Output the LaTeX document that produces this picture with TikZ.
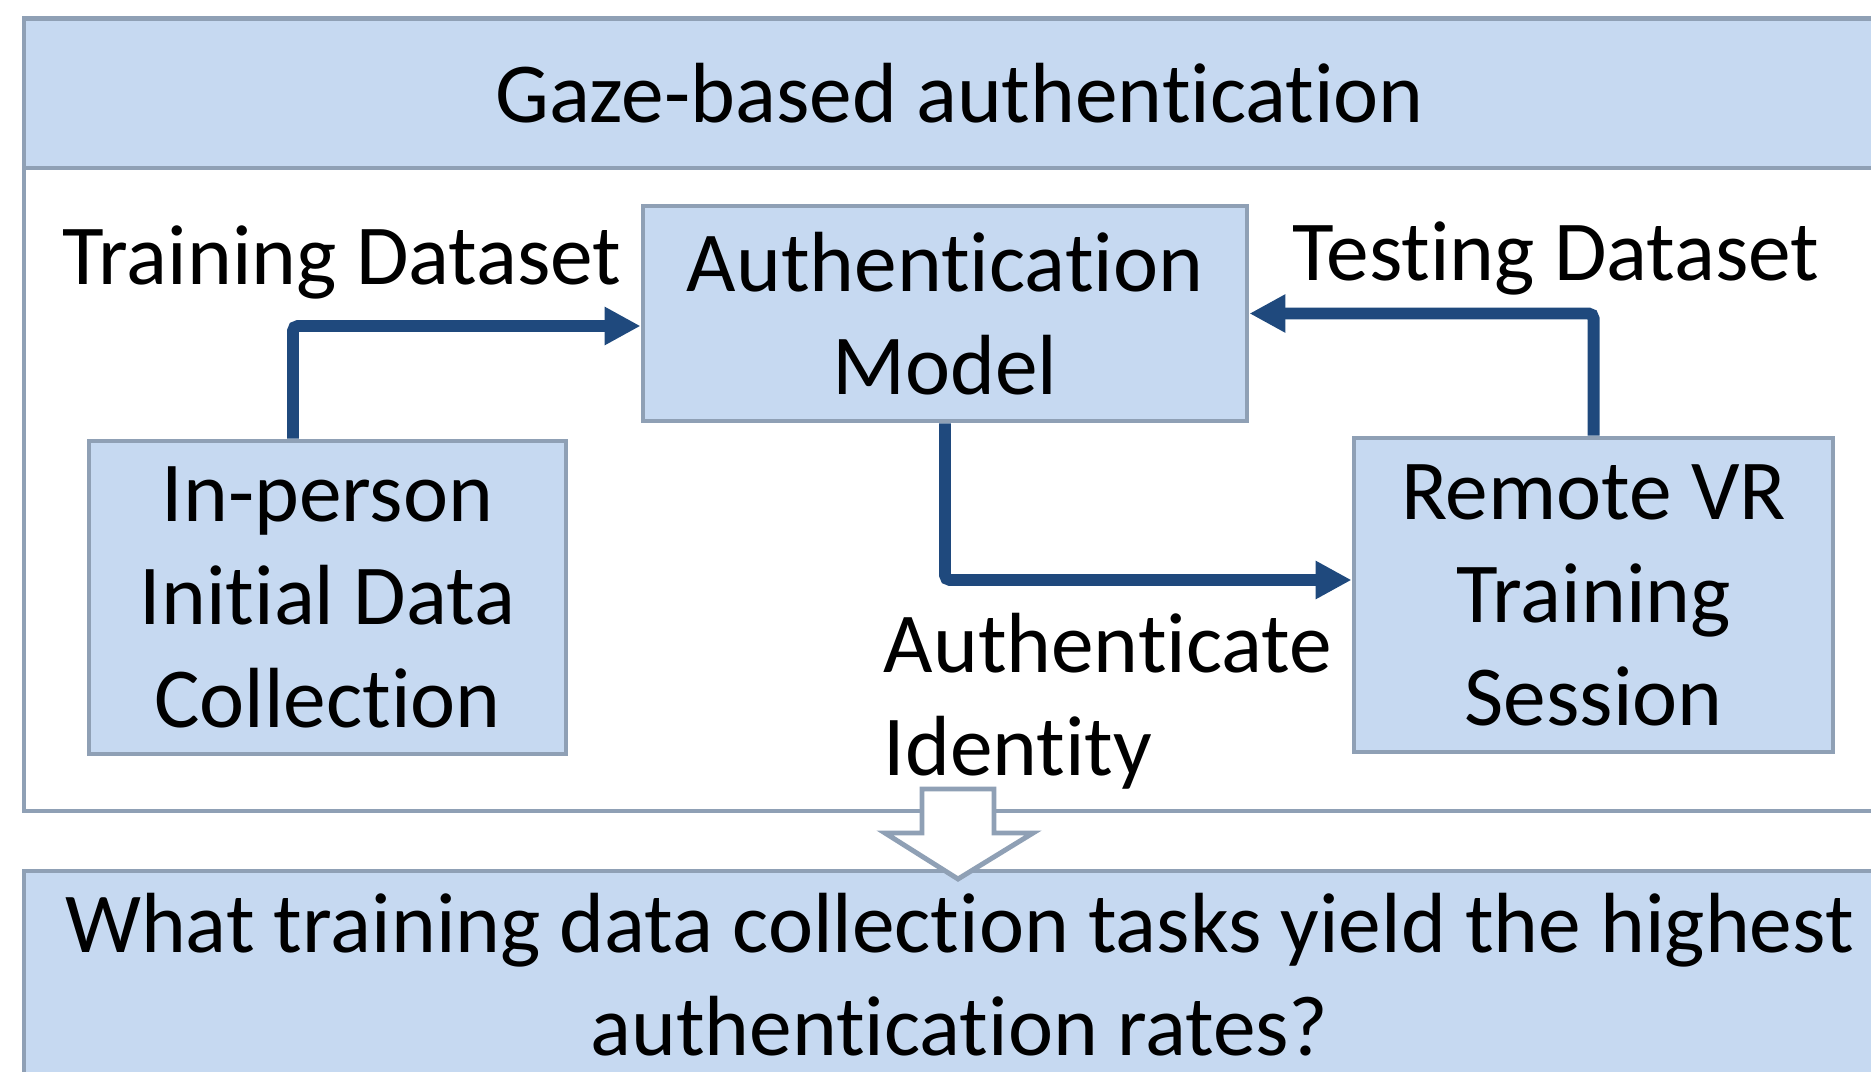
\documentclass[tikz,border=0pt]{standalone}
\usepackage{fontspec}
\setmainfont{Carlito}[Ligatures=CommonOff]
\usetikzlibrary{arrows.meta}

\definecolor{boxfill}{HTML}{C6D9F1}
\definecolor{boxline}{HTML}{8FA0B5}
\definecolor{flowblue}{HTML}{1F497D}

\tikzset{
	blockbox/.style={draw=boxline, fill=boxfill, line width=1.4pt, align=center, inner sep=0pt},
	flowline/.style={draw=flowblue, line width=3.4pt, rounded corners=0.5mm, -{Triangle[length=0.36cm,width=0.36cm]}},
	plaintext/.style={inner sep=0pt, align=left},
}

\begin{document}
\begin{tikzpicture}[font=\fontsize{24.3}{29.3}\selectfont]
		\useasboundingbox (0,0) rectangle (18.71,-10.71);
		\clip (0,0) rectangle (18.71,-10.71);

		% outer frame with the title band
		\node[draw=boxline, line width=1.4pt, minimum width=18.71cm, minimum height=7.93cm, inner sep=0pt] (frame) at (9.595,-4.145) {};
		\node[blockbox, minimum width=18.71cm, minimum height=1.49cm] (title) at (9.595,-0.935) {Gaze-based authentication};

		\node[blockbox, minimum width=6.04cm, minimum height=2.15cm] (model) at (9.45,-3.135) {Authentication\\Model};

		\node[blockbox, minimum width=4.77cm, minimum height=3.13cm] (inperson) at (3.275,-5.975) {In-person\\Initial Data\\Collection};

		\node[blockbox, minimum width=4.79cm, minimum height=3.14cm] (remote) at (15.935,-5.95) {Remote VR\\Training\\Session};

		\draw[flowline] ([xshift=-0.345cm]inperson.north) |- ([yshift=-0.125cm]model.west);
		\draw[flowline] (remote.north) |- (model.east);
		\draw[flowline] (model.south) |- ([yshift=0.15cm]remote.west);

		\node[plaintext] (traintxt) at (3.42,-2.62) {Training Dataset};
		\node[plaintext] (testtxt) at (15.56,-2.58) {Testing Dataset};
		\node[plaintext, anchor=west] (authtxt) at (8.83,-7.01) {Authenticate\\Identity};

		% research question
		\node[blockbox, minimum width=18.71cm, minimum height=2.08cm] (question) at (9.595,-9.75) {What training data collection tasks yield the highest\\authentication rates?};

		% hollow arrow down to the question
		\coordinate (drop) at (9.58,-7.89);
		\draw[boxline, line width=1.4pt, fill=white, line join=miter] (drop) ++(-0.36,0) -- ++(0.72,0) -- ++(0,-0.44) -- ++(0.39,0) -- ++(-0.75,-0.46) -- ++(-0.73,0.46) -- ++(0.37,0) -- cycle;
	\end{tikzpicture}
\end{document}
